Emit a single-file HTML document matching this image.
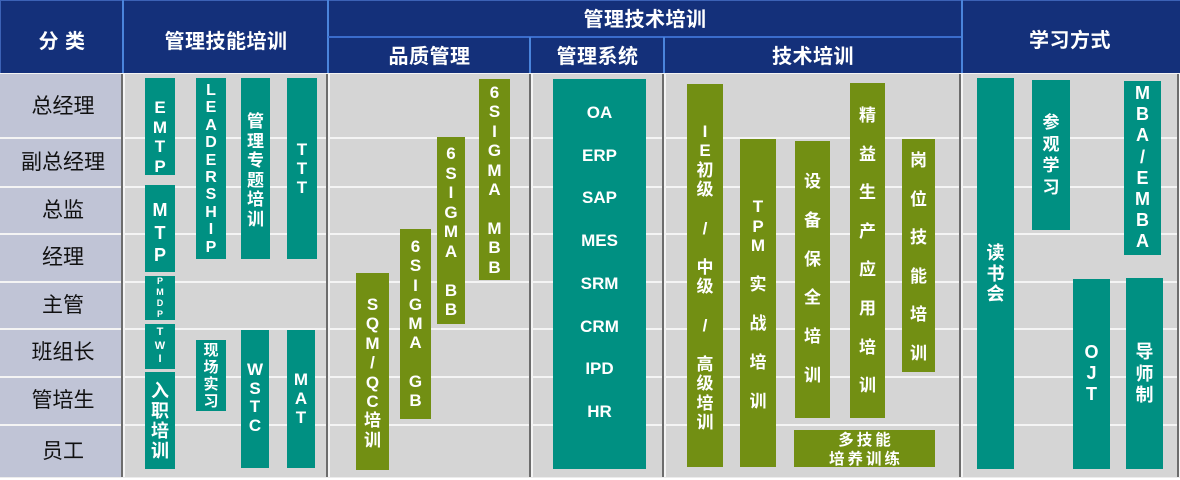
<!DOCTYPE html>
<html><head><meta charset="utf-8">
<style>
*{margin:0;padding:0;box-sizing:border-box}
html,body{width:1180px;height:480px;background:#fff;overflow:hidden}
body{position:relative;font-family:"Liberation Sans","Noto Sans CJK SC",sans-serif}
div{position:absolute}
.hd{background:#14307a}
.ht{color:#fff;font-weight:bold;font-size:20px;height:26px;line-height:26px;text-align:center;font-family:"Liberation Sans","Noto Sans CJK SC",sans-serif;letter-spacing:0.5px}
.hl{background:#4a84dc}
.lbl{left:2px;width:122px;text-align:center;font-size:21px;color:#111;font-family:"Liberation Sans","Noto Sans CJK SC",sans-serif}
.wl{background:#f4f4f4}
.dk{background:#6c6c6c}
.b{color:#fff;font-weight:bold;text-align:center;font-family:"Liberation Sans","Noto Sans CJK SC",sans-serif}
.t{background:#009082}
.o{background:#728f13}
</style></head><body>

<!-- header -->
<div class="hd" style="left:0;top:0;width:1180px;height:73px;border-top:1px solid #3c62b6;border-left:1px solid #3c62b6"></div>
<div class="hl" style="left:122px;top:0;width:2px;height:73px"></div>
<div class="hl" style="left:327px;top:0;width:2px;height:73px"></div>
<div class="hl" style="left:961px;top:0;width:2px;height:73px"></div>
<div class="hl" style="left:328px;top:36px;width:633px;height:2px;background:#3a6ccc"></div>
<div class="hl" style="left:529px;top:37px;width:2px;height:36px"></div>
<div class="hl" style="left:663px;top:37px;width:2px;height:36px"></div>

<div class="ht" style="left:0;top:29px;width:124px">分 类</div>
<div class="ht" style="left:124px;top:29px;width:204px">管理技能培训</div>
<div class="ht" style="left:329px;top:7px;width:632px">管理技术培训</div>
<div class="ht" style="left:329px;top:44px;width:201px">品质管理</div>
<div class="ht" style="left:531px;top:44px;width:133px">管理系统</div>
<div class="ht" style="left:665px;top:44px;width:296px">技术培训</div>
<div class="ht" style="left:962px;top:28px;width:216px">学习方式</div>

<!-- body background -->
<div style="left:0;top:73px;width:1180px;height:1px;background:#f4f4f4"></div>
<div style="left:0;top:74px;width:1180px;height:403px;background:#d5d5d5"></div>
<div style="left:0;top:74px;width:122px;height:403px;background:#c0c4d6"></div>
<div style="left:0;top:477px;width:1180px;height:1px;background:#ececec"></div>

<!-- row separators -->
<div class="wl" style="left:0;top:137px;width:1180px;height:2px"></div>
<div class="wl" style="left:0;top:186px;width:1180px;height:2px"></div>
<div class="wl" style="left:0;top:233px;width:1180px;height:2px"></div>
<div class="wl" style="left:0;top:281px;width:1180px;height:2px"></div>
<div class="wl" style="left:0;top:328px;width:1180px;height:2px"></div>
<div class="wl" style="left:0;top:376px;width:1180px;height:2px"></div>
<div class="wl" style="left:0;top:424px;width:1180px;height:2px"></div>

<!-- column separators -->
<div class="dk" style="left:121px;top:74px;width:2px;height:403px"></div>
<div class="wl" style="left:123px;top:74px;width:2px;height:403px"></div>
<div class="dk" style="left:326px;top:74px;width:2px;height:403px"></div>
<div class="wl" style="left:328px;top:74px;width:2px;height:403px"></div>
<div class="dk" style="left:529px;top:74px;width:2px;height:403px"></div>
<div class="wl" style="left:531px;top:74px;width:2px;height:403px"></div>
<div class="dk" style="left:662px;top:74px;width:2px;height:403px"></div>
<div class="wl" style="left:664px;top:74px;width:2px;height:403px"></div>
<div class="dk" style="left:959px;top:74px;width:2px;height:403px"></div>
<div class="wl" style="left:961px;top:74px;width:2px;height:403px"></div>
<div class="dk" style="left:1177px;top:74px;width:2px;height:403px"></div>
<div class="wl" style="left:1179px;top:74px;width:1px;height:403px"></div>

<!-- row labels -->
<div class="lbl" style="top:74px;height:63px;line-height:65px">总经理</div>
<div class="lbl" style="top:139px;height:47px;line-height:47px">副总经理</div>
<div class="lbl" style="top:188px;height:45px;line-height:45px">总监</div>
<div class="lbl" style="top:235px;height:46px;line-height:45px">经理</div>
<div class="lbl" style="top:283px;height:45px;line-height:45px">主管</div>
<div class="lbl" style="top:330px;height:46px;line-height:46px">班组长</div>
<div class="lbl" style="top:378px;height:46px;line-height:45px">管培生</div>
<div class="lbl" style="top:426px;height:51px;line-height:51px">员工</div>

<!-- 管理技能培训 -->
<div class="b t" style="left:145px;top:78px;width:30px;height:97px;padding-top:20px;font-size:17px;line-height:19.5px">E<br>M<br>T<br>P</div>
<div class="b t" style="left:145px;top:185px;width:30px;height:87px;padding-top:14px;font-size:18px;line-height:22.5px">M<br>T<br>P</div>
<div class="b t" style="left:145px;top:276px;width:30px;height:44px;padding-top:0;font-size:9px;line-height:11px">P<br>M<br>D<br>P</div>
<div class="b t" style="left:145px;top:324px;width:30px;height:45px;padding-top:2px;font-size:11px;line-height:13.5px">T<br>W<br>I</div>
<div class="b t" style="left:145px;top:372px;width:30px;height:97px;padding-top:9px;font-size:18px;line-height:20px">入<br>职<br>培<br>训</div>
<div class="b t" style="left:196px;top:78px;width:30px;height:181px;padding-top:4px;font-size:16px;line-height:17.4px">L<br>E<br>A<br>D<br>E<br>R<br>S<br>H<br>I<br>P</div>
<div class="b t" style="left:241px;top:78px;width:29px;height:181px;padding-top:34px;font-size:17px;line-height:19.6px">管<br>理<br>专<br>题<br>培<br>训</div>
<div class="b t" style="left:287px;top:78px;width:30px;height:181px;padding-top:62px;font-size:17px;line-height:19px">T<br>T<br>T</div>
<div class="b t" style="left:196px;top:340px;width:30px;height:71px;padding-top:2px;font-size:15px;line-height:17px">现<br>场<br>实<br>习</div>
<div class="b t" style="left:241px;top:330px;width:28px;height:138px;padding-top:31px;font-size:17px;line-height:18.7px">W<br>S<br>T<br>C</div>
<div class="b t" style="left:287px;top:330px;width:28px;height:138px;padding-top:40px;font-size:17px;line-height:19px">M<br>A<br>T</div>

<!-- 品质管理 -->
<div class="b o" style="left:356px;top:273px;width:33px;height:197px;padding-top:22px;font-size:17px;line-height:19.4px">S<br>Q<br>M<br>/<br>Q<br>C<br>培<br>训</div>
<div class="b o" style="left:400px;top:229px;width:31px;height:190px;padding-top:8px;font-size:17px;line-height:19.3px">6<br>S<br>I<br>G<br>M<br>A<br><br>G<br>B</div>
<div class="b o" style="left:437px;top:137px;width:28px;height:187px;padding-top:7px;font-size:17px;line-height:19.5px">6<br>S<br>I<br>G<br>M<br>A<br><br>B<br>B</div>
<div class="b o" style="left:479px;top:79px;width:31px;height:201px;padding-top:4px;font-size:17px;line-height:19.4px">6<br>S<br>I<br>G<br>M<br>A<br><br>M<br>B<br>B</div>

<!-- 管理系统 -->
<div class="b t" style="left:553px;top:79px;width:93px;height:390px;padding-top:13px;font-size:17px;line-height:42.7px">OA<br>ERP<br>SAP<br>MES<br>SRM<br>CRM<br>IPD<br>HR</div>

<!-- 技术培训 -->
<div class="b o" style="left:687px;top:84px;width:36px;height:383px;padding-top:38px;font-size:17px;line-height:19.4px">I<br>E<br>初<br>级<br><br>/<br><br>中<br>级<br><br>/<br><br>高<br>级<br>培<br>训</div>
<div class="b o" style="left:740px;top:139px;width:36px;height:328px;padding-top:58px;font-size:17px;line-height:19.5px">T<br>P<br>M<br><br>实<br><br>战<br><br>培<br><br>训</div>
<div class="b o" style="left:795px;top:141px;width:35px;height:277px;padding-top:22px;font-size:17px;line-height:38.8px">设<br>备<br>保<br>全<br>培<br>训</div>
<div class="b o" style="left:850px;top:83px;width:35px;height:335px;padding-top:14px;font-size:17px;line-height:38.6px">精<br>益<br>生<br>产<br>应<br>用<br>培<br>训</div>
<div class="b o" style="left:902px;top:139px;width:33px;height:233px;padding-top:3px;font-size:17px;line-height:38.5px">岗<br>位<br>技<br>能<br>培<br>训</div>
<div class="b o" style="left:794px;top:430px;width:141px;height:37px;padding-top:1px;padding-left:3px;font-size:15.5px;line-height:19px;letter-spacing:3px">多技能<br>培养训练</div>

<!-- 学习方式 -->
<div class="b t" style="left:977px;top:78px;width:37px;height:391px;padding-top:165px;font-size:18px;line-height:20.5px">读<br>书<br>会</div>
<div class="b t" style="left:1032px;top:80px;width:38px;height:150px;padding-top:32px;font-size:17px;line-height:21.7px">参<br>观<br>学<br>习</div>
<div class="b t" style="left:1124px;top:81px;width:37px;height:174px;padding-top:2px;font-size:18px;line-height:21.2px">M<br>B<br>A<br>/<br>E<br>M<br>B<br>A</div>
<div class="b t" style="left:1073px;top:279px;width:37px;height:190px;padding-top:63px;font-size:18px;line-height:21px">O<br>J<br>T</div>
<div class="b t" style="left:1126px;top:278px;width:37px;height:191px;padding-top:64px;font-size:18px;line-height:21.5px">导<br>师<br>制</div>

</body></html>
